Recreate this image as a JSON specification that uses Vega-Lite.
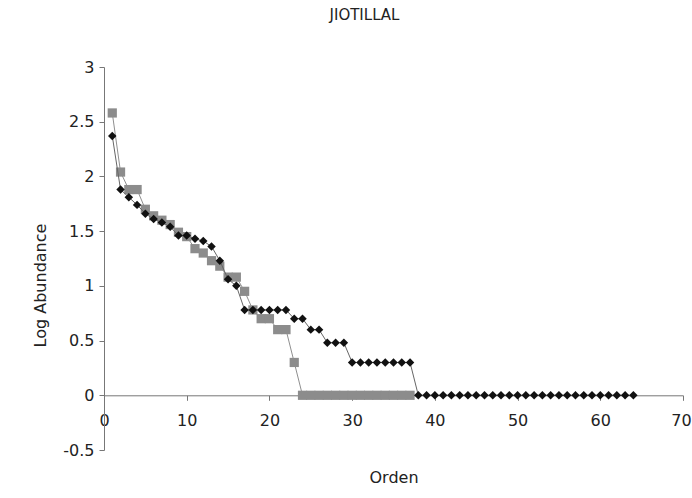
{
  "$schema": "https://vega.github.io/schema/vega-lite/v6.json",
  "width": 579,
  "height": 383,
  "autosize": {"type": "none"},
  "padding": {"left": 104, "top": 67, "right": 9, "bottom": 48},
  "background": "white",
  "title": {
    "text": "JIOTILLAL",
    "font": "DejaVu Sans",
    "fontSize": 15,
    "fontWeight": "normal",
    "color": "#222",
    "anchor": "middle",
    "frame": "group",
    "dx": -29,
    "offset": 36
  },
  "config": {
    "view": {"stroke": null},
    "axis": {
      "labelFont": "DejaVu Sans",
      "titleFont": "DejaVu Sans",
      "labelFontSize": 16,
      "titleFontSize": 16,
      "titleFontWeight": "normal",
      "labelColor": "#222",
      "titleColor": "#222",
      "domainColor": "#777",
      "tickColor": "#777",
      "grid": false
    }
  },
  "datasets": {
    "pts": [
      {"orden": 1, "logab": 2.37, "serie": "B"},
      {"orden": 2, "logab": 1.88, "serie": "B"},
      {"orden": 3, "logab": 1.81, "serie": "B"},
      {"orden": 4, "logab": 1.74, "serie": "B"},
      {"orden": 5, "logab": 1.66, "serie": "B"},
      {"orden": 6, "logab": 1.61, "serie": "B"},
      {"orden": 7, "logab": 1.58, "serie": "B"},
      {"orden": 8, "logab": 1.54, "serie": "B"},
      {"orden": 9, "logab": 1.46, "serie": "B"},
      {"orden": 10, "logab": 1.46, "serie": "B"},
      {"orden": 11, "logab": 1.43, "serie": "B"},
      {"orden": 12, "logab": 1.41, "serie": "B"},
      {"orden": 13, "logab": 1.36, "serie": "B"},
      {"orden": 14, "logab": 1.23, "serie": "B"},
      {"orden": 15, "logab": 1.06, "serie": "B"},
      {"orden": 16, "logab": 1.0, "serie": "B"},
      {"orden": 17, "logab": 0.78, "serie": "B"},
      {"orden": 18, "logab": 0.78, "serie": "B"},
      {"orden": 19, "logab": 0.78, "serie": "B"},
      {"orden": 20, "logab": 0.78, "serie": "B"},
      {"orden": 21, "logab": 0.78, "serie": "B"},
      {"orden": 22, "logab": 0.78, "serie": "B"},
      {"orden": 23, "logab": 0.7, "serie": "B"},
      {"orden": 24, "logab": 0.7, "serie": "B"},
      {"orden": 25, "logab": 0.6, "serie": "B"},
      {"orden": 26, "logab": 0.6, "serie": "B"},
      {"orden": 27, "logab": 0.48, "serie": "B"},
      {"orden": 28, "logab": 0.48, "serie": "B"},
      {"orden": 29, "logab": 0.48, "serie": "B"},
      {"orden": 30, "logab": 0.3, "serie": "B"},
      {"orden": 31, "logab": 0.3, "serie": "B"},
      {"orden": 32, "logab": 0.3, "serie": "B"},
      {"orden": 33, "logab": 0.3, "serie": "B"},
      {"orden": 34, "logab": 0.3, "serie": "B"},
      {"orden": 35, "logab": 0.3, "serie": "B"},
      {"orden": 36, "logab": 0.3, "serie": "B"},
      {"orden": 37, "logab": 0.3, "serie": "B"},
      {"orden": 38, "logab": 0, "serie": "B"},
      {"orden": 39, "logab": 0, "serie": "B"},
      {"orden": 40, "logab": 0, "serie": "B"},
      {"orden": 41, "logab": 0, "serie": "B"},
      {"orden": 42, "logab": 0, "serie": "B"},
      {"orden": 43, "logab": 0, "serie": "B"},
      {"orden": 44, "logab": 0, "serie": "B"},
      {"orden": 45, "logab": 0, "serie": "B"},
      {"orden": 46, "logab": 0, "serie": "B"},
      {"orden": 47, "logab": 0, "serie": "B"},
      {"orden": 48, "logab": 0, "serie": "B"},
      {"orden": 49, "logab": 0, "serie": "B"},
      {"orden": 50, "logab": 0, "serie": "B"},
      {"orden": 51, "logab": 0, "serie": "B"},
      {"orden": 52, "logab": 0, "serie": "B"},
      {"orden": 53, "logab": 0, "serie": "B"},
      {"orden": 54, "logab": 0, "serie": "B"},
      {"orden": 55, "logab": 0, "serie": "B"},
      {"orden": 56, "logab": 0, "serie": "B"},
      {"orden": 57, "logab": 0, "serie": "B"},
      {"orden": 58, "logab": 0, "serie": "B"},
      {"orden": 59, "logab": 0, "serie": "B"},
      {"orden": 60, "logab": 0, "serie": "B"},
      {"orden": 61, "logab": 0, "serie": "B"},
      {"orden": 62, "logab": 0, "serie": "B"},
      {"orden": 63, "logab": 0, "serie": "B"},
      {"orden": 64, "logab": 0, "serie": "B"},
      {"orden": 1, "logab": 2.58, "serie": "G"},
      {"orden": 2, "logab": 2.04, "serie": "G"},
      {"orden": 3, "logab": 1.88, "serie": "G"},
      {"orden": 4, "logab": 1.88, "serie": "G"},
      {"orden": 5, "logab": 1.7, "serie": "G"},
      {"orden": 6, "logab": 1.64, "serie": "G"},
      {"orden": 7, "logab": 1.6, "serie": "G"},
      {"orden": 8, "logab": 1.56, "serie": "G"},
      {"orden": 9, "logab": 1.49, "serie": "G"},
      {"orden": 10, "logab": 1.45, "serie": "G"},
      {"orden": 11, "logab": 1.34, "serie": "G"},
      {"orden": 12, "logab": 1.3, "serie": "G"},
      {"orden": 13, "logab": 1.23, "serie": "G"},
      {"orden": 14, "logab": 1.18, "serie": "G"},
      {"orden": 15, "logab": 1.08, "serie": "G"},
      {"orden": 16, "logab": 1.08, "serie": "G"},
      {"orden": 17, "logab": 0.95, "serie": "G"},
      {"orden": 18, "logab": 0.78, "serie": "G"},
      {"orden": 19, "logab": 0.7, "serie": "G"},
      {"orden": 20, "logab": 0.7, "serie": "G"},
      {"orden": 21, "logab": 0.6, "serie": "G"},
      {"orden": 22, "logab": 0.6, "serie": "G"},
      {"orden": 23, "logab": 0.3, "serie": "G"},
      {"orden": 24, "logab": 0, "serie": "G"},
      {"orden": 25, "logab": 0, "serie": "G"},
      {"orden": 26, "logab": 0, "serie": "G"},
      {"orden": 27, "logab": 0, "serie": "G"},
      {"orden": 28, "logab": 0, "serie": "G"},
      {"orden": 29, "logab": 0, "serie": "G"},
      {"orden": 30, "logab": 0, "serie": "G"},
      {"orden": 31, "logab": 0, "serie": "G"},
      {"orden": 32, "logab": 0, "serie": "G"},
      {"orden": 33, "logab": 0, "serie": "G"},
      {"orden": 34, "logab": 0, "serie": "G"},
      {"orden": 35, "logab": 0, "serie": "G"},
      {"orden": 36, "logab": 0, "serie": "G"},
      {"orden": 37, "logab": 0, "serie": "G"}
    ]
  },
  "data": {"name": "pts"},
  "encoding": {
    "x": {
      "field": "orden",
      "type": "quantitative",
      "scale": {"domain": [0, 70], "nice": false, "zero": false},
      "axis": {
        "title": "Orden",
        "values": [0, 10, 20, 30, 40, 50, 60, 70],
        "offset": -54.7,
        "tickSize": 5,
        "labelPadding": 12,
        "labelFlush": false,
        "labelOffset": {"condition": {"test": "datum.value === 70", "value": -2}, "value": 0},
        "titleBaseline": "middle",
        "titleY": 82
      }
    },
    "y": {
      "field": "logab",
      "type": "quantitative",
      "scale": {"domain": [-0.5, 3], "nice": false, "zero": false},
      "axis": {
        "title": "Log Abundance",
        "values": [-0.5, 0, 0.5, 1, 1.5, 2, 2.5, 3],
        "labelExpr": "'' + datum.value",
        "tickSize": 5,
        "labelPadding": 5,
        "titleAngle": -90,
        "titleAlign": "center",
        "titleBaseline": "middle",
        "titleX": -64,
        "titleY": 218
      }
    }
  },
  "layer": [
    {
      "transform": [{"filter": "datum.serie === 'G'"}],
      "mark": {"type": "line", "color": "#8f8f8f", "strokeWidth": 1}
    },
    {
      "transform": [{"filter": "datum.serie === 'G'"}],
      "mark": {"type": "point", "shape": "square", "filled": true, "size": 85, "color": "#8c8c8c", "opacity": 1}
    },
    {
      "transform": [{"filter": "datum.serie === 'B'"}],
      "mark": {"type": "line", "color": "#666666", "strokeWidth": 1}
    },
    {
      "transform": [{"filter": "datum.serie === 'B'"}],
      "mark": {"type": "point", "shape": "diamond", "filled": true, "size": 72, "color": "#111111", "opacity": 1}
    }
  ]
}
